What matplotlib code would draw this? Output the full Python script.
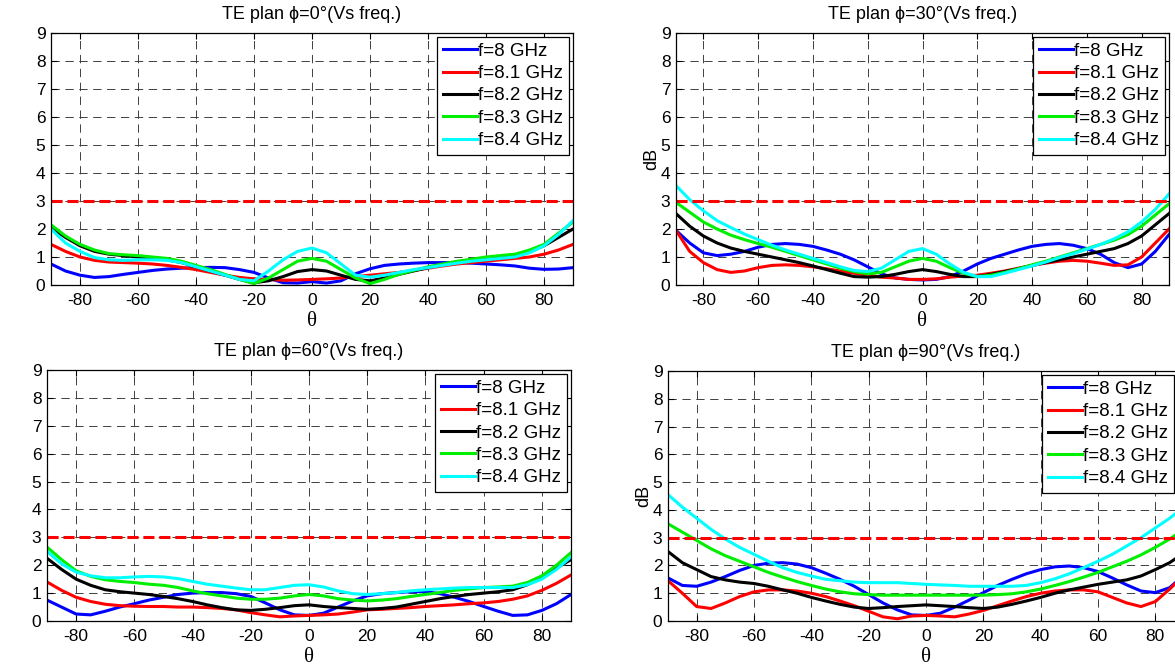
import numpy as np
import matplotlib
matplotlib.use('Agg')
import matplotlib.pyplot as plt

plt.rcParams['font.family'] = ['Liberation Sans', 'DejaVu Sans']
plt.rcParams['lines.scale_dashes'] = False
plt.rcParams['axes.unicode_minus'] = False

# angle theta (deg), 5 deg steps
theta = np.arange(-90, 91, 5)

freqs = ['f=8 GHz', 'f=8.1 GHz', 'f=8.2 GHz', 'f=8.3 GHz', 'f=8.4 GHz']
colors = ['#0000ff', '#ff0000', '#000000', '#00ee00', '#00ffff']
titles = ['TE plan ϕ=0°(Vs freq.)', 'TE plan ϕ=30°(Vs freq.)',
          'TE plan ϕ=60°(Vs freq.)', 'TE plan ϕ=90°(Vs freq.)']

# phi = 0
phi0_f80 = [0.75, 0.5, 0.35, 0.27, 0.3, 0.38, 0.45, 0.52, 0.57, 0.6, 0.62, 0.63, 0.62, 0.55, 0.45, 0.25, 0.08, 0.07, 0.12,
            0.07, 0.15, 0.4, 0.58, 0.7, 0.75, 0.78, 0.8, 0.8, 0.8, 0.78, 0.75, 0.72, 0.68, 0.6, 0.56, 0.57, 0.62]
phi0_f81 = [1.45, 1.2, 1.0, 0.88, 0.82, 0.8, 0.78, 0.75, 0.7, 0.63, 0.55, 0.45, 0.35, 0.27, 0.22, 0.2, 0.17, 0.18, 0.2,
            0.22, 0.25, 0.3, 0.35, 0.4, 0.45, 0.52, 0.6, 0.68, 0.75, 0.8, 0.85, 0.9, 0.95, 1.0, 1.1, 1.25, 1.45]
phi0_f82 = [2.05, 1.7, 1.4, 1.2, 1.1, 1.05, 1.0, 0.97, 0.9, 0.8, 0.65, 0.5, 0.35, 0.2, 0.08, 0.15, 0.3, 0.48, 0.55,
            0.5, 0.35, 0.2, 0.15, 0.25, 0.38, 0.5, 0.62, 0.72, 0.8, 0.88, 0.95, 1.0, 1.05, 1.2, 1.4, 1.7, 2.0]
phi0_f83 = [2.15, 1.75, 1.45, 1.25, 1.12, 1.08, 1.05, 1.0, 0.95, 0.85, 0.7, 0.55, 0.38, 0.2, 0.05, 0.25, 0.55, 0.85, 0.95,
            0.85, 0.55, 0.25, 0.05, 0.2, 0.38, 0.52, 0.65, 0.75, 0.85, 0.92, 1.0, 1.05, 1.1, 1.25, 1.45, 1.85, 2.25]
phi0_f84 = [2.0, 1.5, 1.2, 0.98, 0.9, 0.88, 0.9, 0.9, 0.88, 0.8, 0.65, 0.5, 0.35, 0.2, 0.15, 0.5, 0.9, 1.2, 1.32,
            1.15, 0.75, 0.35, 0.28, 0.35, 0.45, 0.55, 0.62, 0.7, 0.78, 0.85, 0.9, 0.95, 1.0, 1.15, 1.4, 1.8, 2.3]

# phi = 30
phi30_f80 = [1.95, 1.5, 1.15, 1.05, 1.1, 1.2, 1.35, 1.45, 1.48, 1.45, 1.38, 1.25, 1.1, 0.9, 0.65, 0.4, 0.25, 0.2, 0.18,
             0.2, 0.3, 0.5, 0.75, 0.95, 1.1, 1.25, 1.38, 1.45, 1.48, 1.42, 1.3, 1.1, 0.8, 0.62, 0.75, 1.2, 1.8]
phi30_f81 = [1.95, 1.2, 0.8, 0.55, 0.45, 0.5, 0.62, 0.7, 0.72, 0.7, 0.65, 0.58, 0.5, 0.42, 0.35, 0.28, 0.25, 0.2, 0.2,
             0.22, 0.28, 0.32, 0.35, 0.42, 0.5, 0.6, 0.7, 0.78, 0.85, 0.88, 0.85, 0.78, 0.7, 0.72, 1.0, 1.5, 2.0]
phi30_f82 = [2.55, 2.1, 1.75, 1.5, 1.32, 1.2, 1.1, 1.0, 0.9, 0.8, 0.68, 0.55, 0.42, 0.3, 0.28, 0.3, 0.38, 0.48, 0.55,
             0.48, 0.38, 0.3, 0.3, 0.38, 0.48, 0.58, 0.7, 0.8, 0.9, 1.0, 1.1, 1.2, 1.3, 1.48, 1.75, 2.15, 2.55]
phi30_f83 = [2.95, 2.6, 2.25, 2.0, 1.78, 1.62, 1.48, 1.35, 1.2, 1.05, 0.9, 0.75, 0.6, 0.48, 0.4, 0.45, 0.65, 0.85, 0.95,
             0.85, 0.62, 0.42, 0.3, 0.35, 0.45, 0.58, 0.72, 0.85, 1.0, 1.15, 1.3, 1.45, 1.6, 1.8, 2.1, 2.5, 2.9]
phi30_f84 = [3.55, 3.05, 2.65, 2.3, 2.05, 1.82, 1.62, 1.42, 1.25, 1.1, 0.95, 0.8, 0.65, 0.52, 0.48, 0.6, 0.9, 1.2, 1.3,
             1.1, 0.75, 0.45, 0.3, 0.3, 0.42, 0.55, 0.68, 0.82, 0.98, 1.12, 1.28, 1.45, 1.65, 1.9, 2.25, 2.7, 3.25]

# phi = 60
phi60_f80 = [0.75, 0.5, 0.25, 0.22, 0.35, 0.5, 0.62, 0.75, 0.85, 0.95, 1.0, 1.02, 1.02, 0.98, 0.88, 0.65, 0.4, 0.22, 0.2,
             0.28, 0.5, 0.72, 0.9, 0.98, 1.02, 1.05, 1.05, 0.98, 0.85, 0.7, 0.52, 0.35, 0.2, 0.22, 0.38, 0.62, 0.95]
phi60_f81 = [1.4, 1.1, 0.85, 0.7, 0.6, 0.55, 0.53, 0.52, 0.52, 0.5, 0.5, 0.48, 0.45, 0.4, 0.3, 0.22, 0.15, 0.18, 0.2,
             0.22, 0.25, 0.32, 0.4, 0.42, 0.45, 0.48, 0.52, 0.55, 0.58, 0.62, 0.65, 0.7, 0.78, 0.9, 1.1, 1.35, 1.65]
phi60_f82 = [2.25, 1.85, 1.5, 1.28, 1.12, 1.05, 1.0, 0.95, 0.88, 0.8, 0.7, 0.58, 0.48, 0.4, 0.38, 0.42, 0.48, 0.55, 0.58,
             0.52, 0.48, 0.45, 0.42, 0.45, 0.5, 0.6, 0.7, 0.8, 0.88, 0.95, 1.0, 1.05, 1.12, 1.3, 1.55, 1.9, 2.2]
phi60_f83 = [2.65, 2.2, 1.8, 1.6, 1.48, 1.42, 1.38, 1.32, 1.28, 1.2, 1.08, 0.98, 0.9, 0.82, 0.78, 0.78, 0.82, 0.9, 0.95,
             0.9, 0.8, 0.75, 0.72, 0.75, 0.8, 0.88, 0.95, 1.02, 1.1, 1.15, 1.2, 1.22, 1.25, 1.38, 1.62, 2.0, 2.45]
phi60_f84 = [2.5, 2.05, 1.75, 1.62, 1.55, 1.55, 1.58, 1.6, 1.58, 1.52, 1.42, 1.32, 1.25, 1.18, 1.12, 1.12, 1.2, 1.28, 1.3,
             1.22, 1.08, 0.98, 0.95, 0.98, 1.02, 1.08, 1.12, 1.15, 1.18, 1.2, 1.2, 1.2, 1.2, 1.3, 1.5, 1.85, 2.3]

# phi = 90
phi90_f80 = [1.55, 1.28, 1.25, 1.4, 1.6, 1.82, 2.0, 2.08, 2.1, 2.05, 1.92, 1.72, 1.5, 1.25, 0.95, 0.65, 0.4, 0.22, 0.2,
             0.28, 0.5, 0.75, 1.02, 1.28, 1.5, 1.7, 1.85, 1.95, 1.98, 1.92, 1.78, 1.55, 1.3, 1.08, 1.02, 1.2, 1.65]
phi90_f81 = [1.45, 1.0, 0.52, 0.45, 0.65, 0.88, 1.05, 1.12, 1.12, 1.08, 1.0, 0.88, 0.72, 0.55, 0.35, 0.15, 0.08, 0.18, 0.2,
             0.18, 0.15, 0.25, 0.38, 0.55, 0.72, 0.88, 1.0, 1.08, 1.12, 1.12, 1.05, 0.85, 0.65, 0.52, 0.7, 1.15, 1.65]
phi90_f82 = [2.5, 2.1, 1.85, 1.6, 1.48, 1.4, 1.35, 1.25, 1.12, 1.0, 0.85, 0.72, 0.6, 0.5, 0.45, 0.48, 0.52, 0.55, 0.58,
             0.55, 0.52, 0.48, 0.45, 0.5, 0.6, 0.72, 0.85, 1.0, 1.12, 1.22, 1.32, 1.4, 1.48, 1.62, 1.85, 2.1, 2.45]
phi90_f83 = [3.5, 3.2, 2.9, 2.6, 2.35, 2.15, 1.95, 1.75, 1.58, 1.42, 1.28, 1.15, 1.05, 0.98, 0.95, 0.93, 0.93, 0.93, 0.93,
             0.93, 0.93, 0.93, 0.93, 0.95, 0.98, 1.05, 1.15, 1.28, 1.42, 1.58, 1.75, 1.95, 2.15, 2.38, 2.65, 2.95, 3.3]
phi90_f84 = [4.55, 4.1, 3.7, 3.3, 2.95, 2.65, 2.4, 2.15, 1.92, 1.75, 1.62, 1.5, 1.45, 1.4, 1.38, 1.38, 1.38, 1.35, 1.32,
             1.3, 1.28, 1.25, 1.25, 1.25, 1.25, 1.28, 1.38, 1.52, 1.7, 1.92, 2.15, 2.4, 2.7, 3.0, 3.35, 3.7, 4.1]

panels = [
    [phi0_f80, phi0_f81, phi0_f82, phi0_f83, phi0_f84],
    [phi30_f80, phi30_f81, phi30_f82, phi30_f83, phi30_f84],
    [phi60_f80, phi60_f81, phi60_f82, phi60_f83, phi60_f84],
    [phi90_f80, phi90_f81, phi90_f82, phi90_f83, phi90_f84],
]

W, H = 1175, 665
# axes boxes in pixels: left, right, top, bottom
boxes = [(51, 573, 33, 285), (676, 1169, 33, 285),
         (47, 571, 370, 621), (668, 1184, 371, 621)]
# legend top-right corner in pixels
leg_corner = [(569, 37), (1165, 37), (567, 374), (1174, 375)]

fig = plt.figure(figsize=(W / 100, H / 100), dpi=100)

for i in range(4):
    l, r, t, b = boxes[i]
    ax = fig.add_axes([l / W, 1 - b / H, (r - l) / W, (b - t) / H])
    for j in range(5):
        ax.plot(theta, panels[i][j], color=colors[j], lw=2.2, label=freqs[j])
    ax.axhline(3, color='#ff0000', lw=2.2, linestyle=(0, (8, 3.5)))
    ax.set_xlim(-90, 90)
    ax.set_ylim(0, 9)
    ax.set_xticks(np.arange(-80, 81, 20))
    ax.set_yticks(np.arange(0, 10, 1))
    ax.grid(True, color='0.25', lw=0.7, linestyle=(0, (6, 4)))
    ax.tick_params(direction='in', top=True, right=True, length=4, labelsize=12.5)
    ax.tick_params(axis='x', pad=6)
    ax.tick_params(axis='y', pad=4)
    for s in ax.spines.values():
        s.set_linewidth(0.9)
    ax.set_title(titles[i], fontsize=13, pad=10)
    ax.set_xlabel('θ', fontsize=15, family=['Liberation Serif', 'DejaVu Serif'], labelpad=2.5)
    if i % 2 == 1:
        ax.set_ylabel('dB', fontsize=13, labelpad=0)
    lx, ly = leg_corner[i]
    leg = ax.legend(loc='upper right', bbox_to_anchor=(lx / W, 1 - ly / H), bbox_transform=fig.transFigure,
                    borderaxespad=0, fontsize=13.5, fancybox=False, framealpha=1, edgecolor='black',
                    handlelength=1.8, handletextpad=0.1, labelspacing=0.28, borderpad=0.3)
    leg.get_frame().set_linewidth(0.9)

fig.savefig('out.png', dpi=100)
